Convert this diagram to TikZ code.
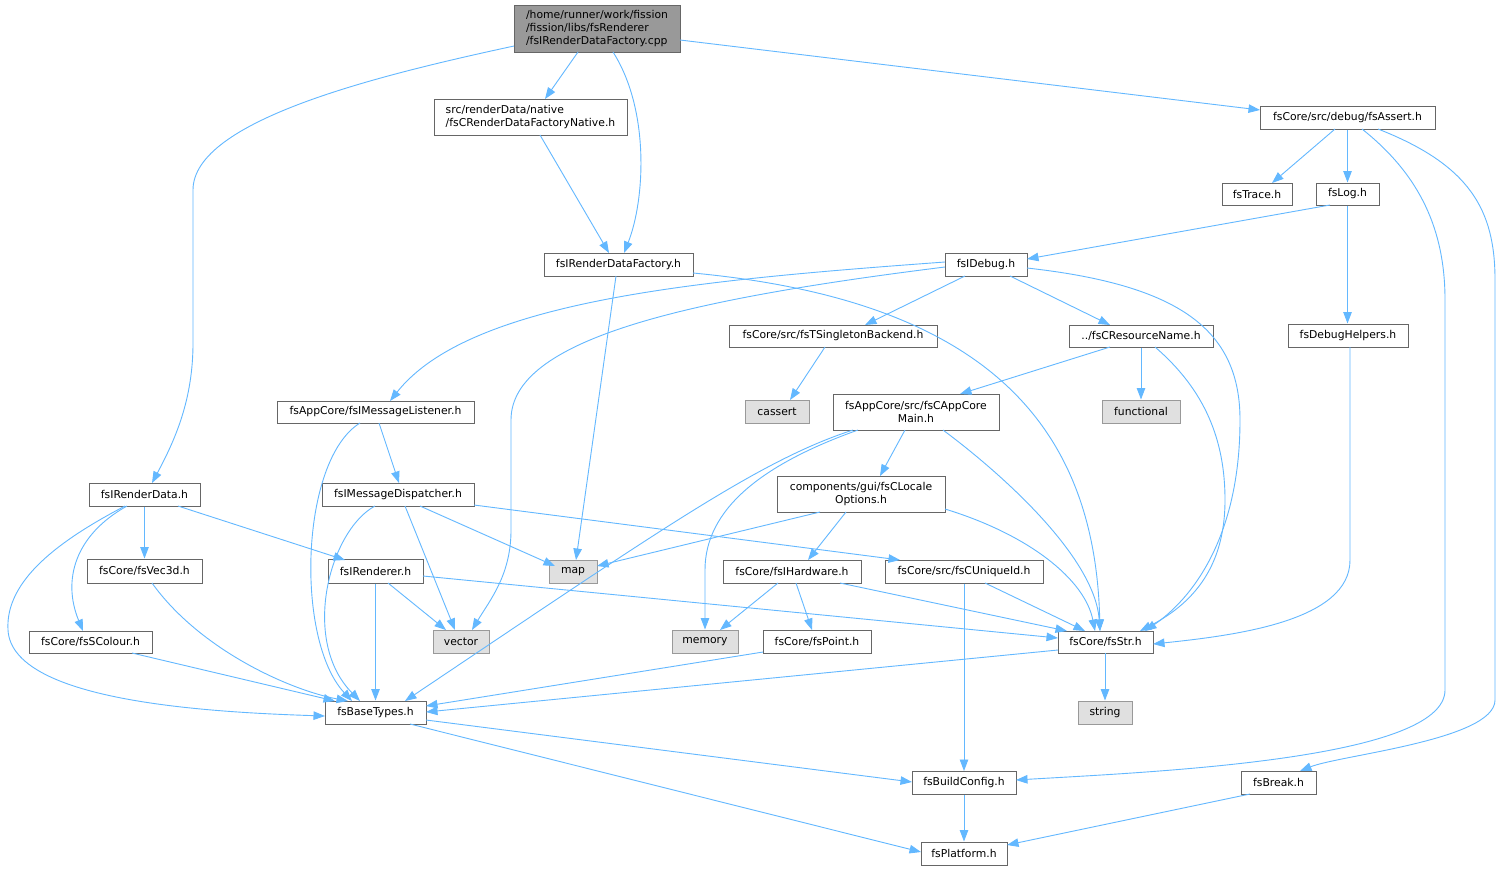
\documentclass[tikz,border=0pt]{standalone}
\usepackage{fontspec}
\setmainfont{DejaVu Sans}
\usetikzlibrary{arrows.meta,calc}
\definecolor{edgecol}{HTML}{63B8FF}
\definecolor{boxline}{HTML}{666666}
\definecolor{extline}{HTML}{999999}
\definecolor{extfill}{HTML}{E0E0E0}
\definecolor{mainfill}{HTML}{999999}
\begin{document}
\begin{tikzpicture}[x=1pt,y=-1pt,
  font=\fontsize{10.8}{13.3}\selectfont,
  box/.style 2 args={draw=boxline, line width=1pt, fill=white, inner sep=0pt,
    minimum width=#1, minimum height=#2, align=center},
  ext/.style 2 args={box={#1}{#2}, draw=extline, fill=extfill},
  e/.style={draw=edgecol, line width=0.9pt, -{Triangle[length=11.5pt,width=8.5pt]}}]
\useasboundingbox (0,0) rectangle (1501,871);
\fill[white] (0,0) rectangle (1501,871);

% nodes
\node[box={166}{47}, fill=mainfill, align=left] (main) at (597,28.5) {/home/runner/work/fission\\/fission/libs/fsRenderer\\/fsIRenderDataFactory.cpp};
\node[box={193}{36}, align=left] (native) at (530.5,117) {src/renderData/native\\/fsCRenderDataFactoryNative.h};
\node[box={149}{23}] (factory) at (618.5,264.5) {fsIRenderDataFactory.h};
\node[box={175}{23}] (assert) at (1347.5,117.5) {fsCore/src/debug/fsAssert.h};
\node[box={70}{22}] (trace) at (1257,194) {fsTrace.h};
\node[box={63}{22}] (log) at (1347.5,194) {fsLog.h};
\node[box={120}{23}] (dhelp) at (1348,335.5) {fsDebugHelpers.h};
\node[box={82}{23}] (idebug) at (986,264.5) {fsIDebug.h};
\node[box={208}{22}] (single) at (833,336) {fsCore/src/fsTSingletonBackend.h};
\node[box={144}{22}] (resname) at (1141,336) {../fsCResourceName.h};
\node[ext={64}{23}] (cassert) at (777,411.5) {cassert};
\node[box={166}{36}] (appmain) at (916,412) {fsAppCore/src/fsCAppCore\\Main.h};
\node[ext={78}{23}] (functional) at (1141,411.5) {functional};
\node[box={197}{22}] (listener) at (375.5,412) {fsAppCore/fsIMessageListener.h};
\node[box={152}{23}] (dispatcher) at (398,494.5) {fsIMessageDispatcher.h};
\node[box={168}{36}] (locale) at (861,494) {components/gui/fsCLocale\\Options.h};
\node[box={111}{23}] (irdata) at (144.5,494.5) {fsIRenderData.h};
\node[box={115}{24}] (vec3d) at (144.5,571) {fsCore/fsVec3d.h};
\node[box={123}{22}] (scolour) at (90.5,642) {fsCore/fsSColour.h};
\node[box={95}{24}] (irenderer) at (375.5,571) {fsIRenderer.h};
\node[box={101}{23}] (basetypes) at (375.5,712.5) {fsBaseTypes.h};
\node[ext={48}{23}] (map) at (573,571.5) {map};
\node[ext={56}{23}] (vector) at (461,641.5) {vector};
\node[ext={66}{23}] (memory) at (705,641.5) {memory};
\node[box={138}{23}] (ihardware) at (792,571.5) {fsCore/fsIHardware.h};
\node[box={108}{23}] (point) at (817,641.5) {fsCore/fsPoint.h};
\node[box={158}{23}] (uniqueid) at (964,571.5) {fsCore/src/fsCUniqueId.h};
\node[box={95}{22}] (str) at (1105.5,642) {fsCore/fsStr.h};
\node[ext={54}{23}] (string) at (1105,712.5) {string};
\node[box={104}{23}] (buildconfig) at (964,783) {fsBuildConfig.h};
\node[box={86}{23}] (platform) at (964,853.5) {fsPlatform.h};
\node[box={75}{23}] (break) at (1278.5,782.5) {fsBreak.h};

% edges
\draw[e] ($(main)+(-83,17.5)$) .. controls (380,75) and (193,120) .. (193,190) -- (193,343) .. controls (193,400) and (175,440) .. ($(irdata)+(7.5,-11.5)$);
\draw[e] ($(main)+(-19,23.5)$) -- ($(native)+(14.5,-18)$);
\draw[e] ($(main)+(16,23.5)$) .. controls (650,110) and (645,200) .. ($(factory)+(5.5,-11.5)$);
\draw[e] ($(main)+(83,11.5)$) -- ($(assert)+(-87.5,-7.5)$);
\draw[e] ($(native)+(9.5,18)$) -- ($(factory)+(-9.5,-11.5)$);
\draw[e] ($(factory)+(-2.5,11.5)$) -- ($(map)+(3,-11.5)$);
\draw[e] ($(factory)+(74.5,8.5)$) .. controls (980,300) and (1095,420) .. ($(str)+(-5.5,-11)$);
\draw[e] ($(assert)+(-12.5,11.5)$) -- ($(trace)+(15,-11)$);
\draw[e] (assert.south) -- (log.north);
\draw[e] ($(assert)+(14.5,11.5)$) .. controls (1420,175) and (1445,230) .. (1445,300) -- (1445,690) .. controls (1445,760) and (1150,772) .. ($(buildconfig)+(52,-3)$);
\draw[e] ($(assert)+(30.5,11.5)$) .. controls (1470,165) and (1495,210) .. (1495,280) -- (1495,700) .. controls (1495,740) and (1340,755) .. ($(break)+(21.5,-11.5)$);
\draw[e] ($(log)+(-17.5,11)$) -- ($(idebug)+(41,-5.5)$);
\draw[e] (log.south) -- (log.south |- dhelp.north);
\draw[e] ($(dhelp)+(2,11.5)$) -- (1350,560) .. controls (1350,620) and (1240,635) .. ($(str)+(47.5,2)$);
\draw[e] ($(idebug)+(-41,-2.5)$) .. controls (700,280) and (470,300) .. ($(listener)+(14.5,-11)$);
\draw[e] ($(idebug)+(-41,2.5)$) .. controls (680,300) and (511,340) .. (511,420) -- (511,530) .. controls (511,575) and (490,600) .. ($(vector)+(11,-11.5)$);
\draw[e] ($(idebug)+(-21,11.5)$) -- ($(single)+(32,-11)$);
\draw[e] ($(idebug)+(24,11.5)$) -- ($(resname)+(-31,-11)$);
\draw[e] ($(idebug)+(41,3.5)$) .. controls (1180,285) and (1240,330) .. (1240,420) .. controls (1240,540) and (1190,600) .. ($(str)+(39.5,-11)$);
\draw[e] ($(single)+(-8,11)$) -- ($(cassert)+(13,-11.5)$);
\draw[e] ($(resname)+(-31,11)$) -- ($(appmain)+(44,-18)$);
\draw[e] (resname.south) -- (functional.north);
\draw[e] ($(resname)+(14,11)$) .. controls (1205,390) and (1225,440) .. (1225,500) .. controls (1225,570) and (1190,605) .. ($(str)+(34.5,-11)$);
\draw[e] ($(appmain)+(-63,18)$) .. controls (760,460) and (660,530) .. ($(basetypes)+(29.5,-11.5)$);
\draw[e] ($(appmain)+(-58,18)$) .. controls (760,465) and (705,510) .. (705,570) -- (memory.north);
\draw[e] ($(appmain)+(-11,18)$) -- ($(locale)+(19,-18)$);
\draw[e] ($(appmain)+(27,18)$) .. controls (1010,480) and (1095,560) .. ($(str)+(-5.5,-11)$);
\draw[e] ($(locale)+(-41,18)$) -- ($(map)+(24,-5.5)$);
\draw[e] ($(locale)+(-15,18)$) -- ($(ihardware)+(16,-11.5)$);
\draw[e] ($(locale)+(84,15)$) .. controls (1030,535) and (1085,580) .. ($(str)+(-10.5,-11)$);
\draw[e] ($(listener)+(3.5,11)$) -- ($(dispatcher)+(1,-11.5)$);
\draw[e] ($(listener)+(-15.5,11)$) .. controls (300,460) and (295,640) .. ($(basetypes)+(-23.5,-11.5)$);
\draw[e] ($(dispatcher)+(-23,11.5)$) .. controls (330,530) and (300,640) .. ($(basetypes)+(-15.5,-11.5)$);
\draw[e] ($(dispatcher)+(7,11.5)$) -- ($(vector)+(-6,-11.5)$);
\draw[e] ($(dispatcher)+(22,11.5)$) -- ($(map)+(-18,-5.5)$);
\draw[e] ($(dispatcher)+(76,10.5)$) -- ($(uniqueid)+(-64,-11.5)$);
\draw[e] (irdata.south) -- (vec3d.north);
\draw[e] ($(irdata)+(-17.5,11.5)$) .. controls (75,535) and (62,580) .. ($(scolour)+(-7.5,-11)$);
\draw[e] ($(irdata)+(33.5,11.5)$) -- ($(irenderer)+(-30.5,-11)$);
\draw[e] ($(irdata)+(-19.5,11.5)$) .. controls (60,540) and (5,580) .. (8,630) .. controls (12,700) and (200,712) .. ($(basetypes)+(-50.5,3.5)$);
\draw[e] ($(vec3d)+(7.5,12)$) .. controls (200,650) and (290,690) .. ($(basetypes)+(-27.5,-11.5)$);
\draw[e] ($(scolour)+(41.5,11)$) -- ($(basetypes)+(-40.5,-11.5)$);
\draw[e] (irenderer.south) -- (basetypes.north);
\draw[e] ($(irenderer)+(12.5,12)$) -- ($(vector)+(-15,-11.5)$);
\draw[e] ($(irenderer)+(47.5,5)$) -- ($(str)+(-47.5,-4)$);
\draw[e] ($(ihardware)+(-14,11.5)$) -- ($(memory)+(15,-11.5)$);
\draw[e] ($(ihardware)+(4,11.5)$) -- ($(point)+(-5,-11.5)$);
\draw[e] ($(ihardware)+(48,11.5)$) -- ($(str)+(-38.5,-11)$);
\draw[e] ($(point)+(-54,10.5)$) -- ($(basetypes)+(50.5,-6.5)$);
\draw[e] ($(uniqueid)+(21,11.5)$) -- ($(str)+(-20.5,-11)$);
\draw[e] (uniqueid.south) -- (buildconfig.north);
\draw[e] ($(str)+(-47.5,8)$) -- ($(basetypes)+(50.5,-0.5)$);
\draw[e] ($(str)+(-0.5,11)$) -- (string.north);
\draw[e] ($(basetypes)+(50.5,7.5)$) -- ($(buildconfig)+(-52,-1)$);
\draw[e] ($(basetypes)+(34.5,11.5)$) -- ($(platform)+(-43,-1.5)$);
\draw[e] (buildconfig.south) -- (platform.north);
\draw[e] ($(break)+(-28.5,11.5)$) -- ($(platform)+(43,-8.5)$);
\end{tikzpicture}
\end{document}
